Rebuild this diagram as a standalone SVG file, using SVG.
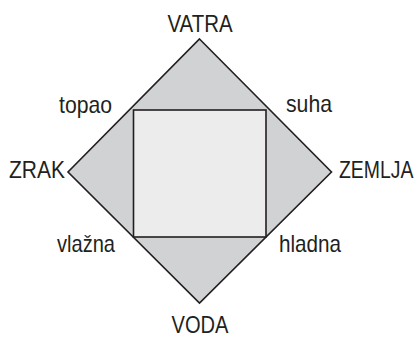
<svg xmlns="http://www.w3.org/2000/svg" width="418" height="337" viewBox="0 0 418 337">
<style>
text{font-family:"Liberation Sans",Arial,sans-serif;font-size:24px;fill:#231f20}
.shape{stroke:#231f20;stroke-width:1.6;stroke-linejoin:miter}
</style>
<rect width="418" height="337" fill="#ffffff"/>
<g id="diamond"><polygon class="shape" points="199.5,39 331.5,172 199.5,303 68,172" fill="#d1d2d4"/></g>
<g id="square"><rect class="shape" x="133.5" y="110" width="132.5" height="127" fill="#ececed"/></g>
<g id="connectors"></g>
<g id="labels">
<text x="200" y="32" text-anchor="middle" textLength="65" lengthAdjust="spacingAndGlyphs">VATRA</text>
<text x="65" y="178" text-anchor="end" textLength="56" lengthAdjust="spacingAndGlyphs">ZRAK</text>
<text transform="translate(339,178) scale(0.81,1)">ZEMLJA</text>
<text x="200" y="333" text-anchor="middle" textLength="57" lengthAdjust="spacingAndGlyphs">VODA</text>
<text x="59" y="113" textLength="53" lengthAdjust="spacingAndGlyphs">topao</text>
<text x="286" y="112" textLength="46" lengthAdjust="spacingAndGlyphs">suha</text>
<text x="57" y="252" textLength="58" lengthAdjust="spacingAndGlyphs">vlažna</text>
<text x="279" y="252" textLength="62" lengthAdjust="spacingAndGlyphs">hladna</text>
</g>
</svg>
